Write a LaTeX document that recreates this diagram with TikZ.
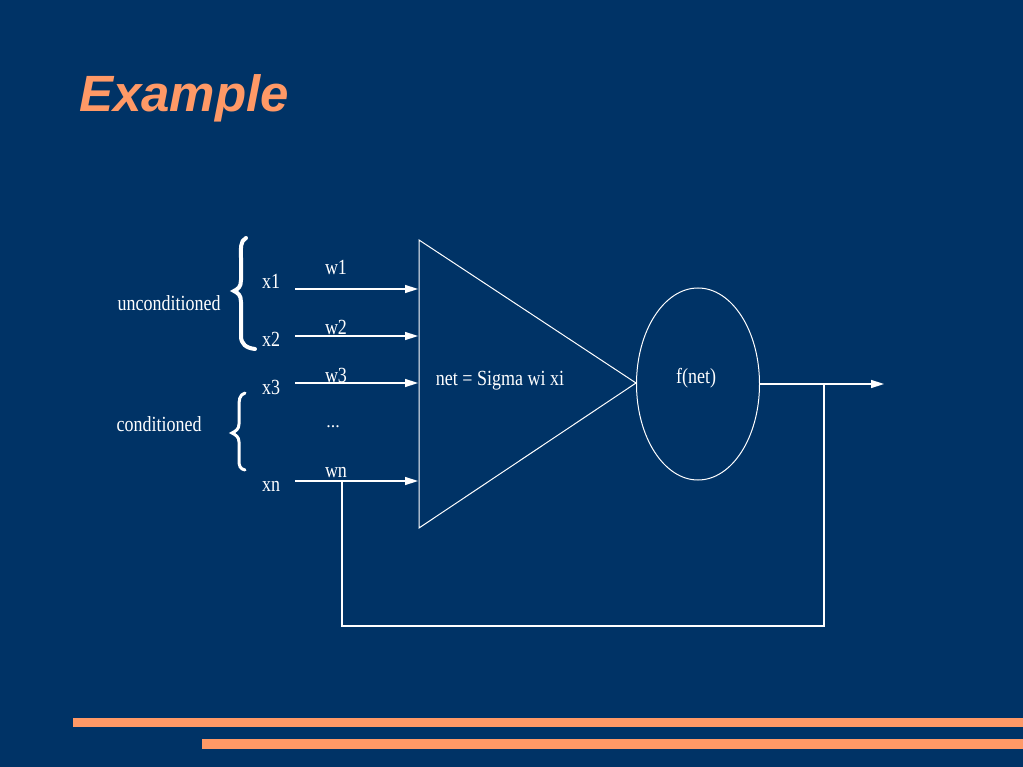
\documentclass[tikz,border=0pt]{standalone}
\usepackage{fontspec}
\usepackage{graphicx}
\setmainfont{Liberation Serif}
\newfontfamily\titlefont{Liberation Sans}
\usetikzlibrary{arrows.meta,shapes.geometric}
\definecolor{bgblue}{RGB}{0,51,102}
\definecolor{salmon}{RGB}{255,153,102}
\newcommand\talltext[1]{\scalebox{1}[1.2]{#1}}
\begin{document}
\begin{tikzpicture}[x=1pt,y=-1pt,
  lbl/.style={text=white,inner sep=0pt,font=\fontsize{18}{18}\selectfont},
  inarrow/.style={draw=white,line width=1.5pt,-{Triangle[length=13pt,width=8pt]}},
  shapeline/.style={draw=white,line width=1pt},
  fbline/.style={draw=white,line width=1.3pt},
  bracestyle/.style={draw=white,line cap=round}]
\useasboundingbox (0,0) rectangle (1023,767);
\fill[bgblue] (0,0) rectangle (1023,767);
% title
\node[anchor=base west,inner sep=0pt,text=salmon,font=\titlefont\fontsize{51}{51}\selectfont\bfseries\itshape] (title) at (79,112) {Example};
% bottom bars
\fill[salmon] (73,718) rectangle (1023,727);
\fill[salmon] (202,739) rectangle (1023,749);
% triangle
\coordinate (tA) at (419,240);
\coordinate (tB) at (419,528);
\coordinate (tC) at (636,383);
\draw[shapeline] (tA) -- (tB) -- (tC) -- cycle;
% ellipse
\node[shapeline,ellipse,minimum width=123pt,minimum height=192pt,inner sep=0pt] (fn) at (698,384) {};
\node[lbl] (fnet) at (696,378) {\talltext{f(net)}};
\node[lbl] (sum) at (500,381) {\talltext{net = Sigma wi xi}};
% inputs
\coordinate (s1) at (295,289); \coordinate (e1) at (418,289);
\coordinate (s2) at (295,336); \coordinate (e2) at (418,336);
\coordinate (s3) at (295,383); \coordinate (e3) at (418,383);
\coordinate (sn) at (295,481); \coordinate (en) at (418,481);
\draw[inarrow] (s1) -- (e1);
\draw[inarrow] (s2) -- (e2);
\draw[inarrow] (s3) -- (e3);
\draw[inarrow] (sn) -- (en);
\node[lbl] (x1) at (271,281) {\talltext{x1}};
\node[lbl] (x2) at (271,339) {\talltext{x2}};
\node[lbl] (x3) at (271,387) {\talltext{x3}};
\node[lbl] (xn) at (271,486) {\talltext{xn}};
\node[lbl] (w1) at (336,267) {\talltext{w1}};
\node[lbl] (w2) at (336,327) {\talltext{w2}};
\node[lbl] (w3) at (336,375) {\talltext{w3}};
\node[lbl] (wn) at (336,473) {\talltext{wn}};
\node[lbl] (dots) at (333,427) {...};
\node[lbl] (uncond) at (169,303) {\talltext{unconditioned}};
\node[lbl] (cond) at (159,424) {\talltext{conditioned}};
% braces
\draw[bracestyle,line width=4pt] (246,238) .. controls (240,241) and (241,248) .. (241,258)
  -- (241,280) .. controls (241,287) and (238,289) .. (234,291)
  .. controls (238,293) and (241,295) .. (241,302)
  -- (241,336) .. controls (241,344) and (246,348) .. (255,349);
\draw[bracestyle,line width=3pt] (245,393) .. controls (239,395) and (239,400) .. (239,408)
  -- (239,424) .. controls (239,429) and (236,431) .. (232,433)
  .. controls (236,435) and (239,437) .. (239,442)
  -- (239,460) .. controls (239,466) and (240,469) .. (245,470);
% output
\coordinate (out) at (884,384);
\coordinate (fb1) at (824,384);
\coordinate (fb2) at (824,626);
\coordinate (fb3) at (342,626);
\coordinate (fb4) at (342,481);
\draw[inarrow] (fn.east) -- (out);
\draw[fbline] (fb1) -- (fb2) -- (fb3) -- (fb4);
\end{tikzpicture}
\end{document}
